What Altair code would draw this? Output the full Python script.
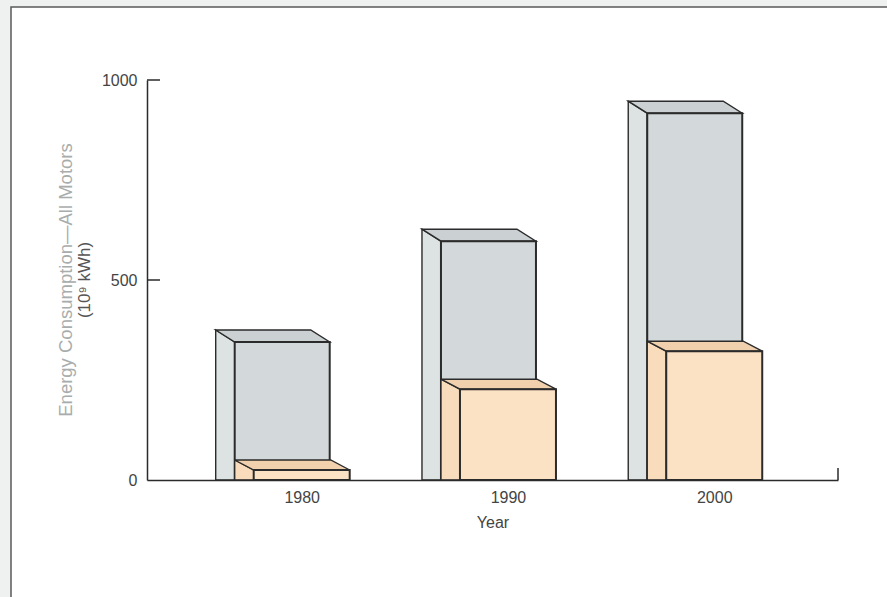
import altair as alt
import pandas as pd

# ---- data ----
years = [1980, 1990, 2000]
all_motors = [345, 597, 917]      # grey boxes (front face top)
efficient = [25, 227, 322]        # peach boxes (front face top)
y_tick_values = [0, 500, 1000]
x_tick_values = [1980, 1990, 2000]

# ---- layout constants (pixels) ----
W, H = 691, 400
X_DOMAIN = [1972.5, 2006.0]
Y_DOMAIN = [0, 1000]
PX_YEAR = W / (X_DOMAIN[1] - X_DOMAIN[0])
PX_UNIT = H / (Y_DOMAIN[1] - Y_DOMAIN[0])
STROKE = "#2b2b2b"


def box_tables(values, series, left_px, right_px, dx_px, dy_px):
    front, side, top = [], [], []
    for yr, v in zip(years, values):
        L = yr + left_px / PX_YEAR
        R = yr + right_px / PX_YEAR
        Lb = L + dx_px / PX_YEAR
        Rb = R + dx_px / PX_YEAR
        Tb = v + dy_px / PX_UNIT
        box = f"{series}-{yr}"
        front.append(dict(series=series, box=box, L=L, R=R, T=v))
        side.append(dict(series=series, box=box, xs=Lb, ys=Tb))
        side.append(dict(series=series, box=box, xs=L, ys=v))
        top.append(dict(series=series, box=box, yt=v, xl=L, xr=R))
        top.append(dict(series=series, box=box, yt=Tb, xl=Lb, xr=Rb))
    return pd.DataFrame(front), pd.DataFrame(side), pd.DataFrame(top)


g_front, g_side, g_top = box_tables(all_motors, "all", -67, 28, -19, 12)
p_front, p_side, p_top = box_tables(efficient, "eff", -48, 48, -19, 10)

xs = alt.Scale(domain=X_DOMAIN, nice=False, zero=False)
ys = alt.Scale(domain=Y_DOMAIN, nice=False)

XAX = alt.Axis(values=x_tick_values, format="d", ticks=False,
               labelPadding=9, titlePadding=9, grid=False,
               domainColor=STROKE, domainWidth=1.5,
               labelColor="#444", titleColor="#444",
               labelFontSize=16, titleFontSize=16,
               titleFontWeight="normal", zindex=1)
YAX = alt.Axis(values=y_tick_values, format="d", ticks=False, labelPadding=10,
               grid=False, domainColor=STROKE, domainWidth=1.5,
               labelColor="#444", labelFontSize=16, zindex=1)


def X(field):
    return alt.X(field, scale=xs, axis=XAX, title="Year")


def Y(field):
    return alt.Y(field, scale=ys, axis=YAX, title=None)


def box_layers(front, side, top, c_front, c_side, c_top):
    side_l = alt.Chart(side).mark_area(
        fill=c_side, stroke=STROKE, strokeWidth=1.4, orient="vertical"
    ).encode(x=X("xs:Q"), y=Y("ys:Q"), y2=alt.datum(0), detail="box:N")
    top_l = alt.Chart(top).mark_area(
        fill=c_top, stroke=STROKE, strokeWidth=1.4, orient="horizontal"
    ).encode(y=Y("yt:Q"), x=X("xl:Q"), x2="xr:Q", detail="box:N")
    front_l = alt.Chart(front).mark_rect(
        fill=c_front, stroke=STROKE, strokeWidth=2
    ).encode(x=X("L:Q"), x2="R:Q", y=Y("T:Q"), y2=alt.datum(0))
    return [side_l, top_l, front_l]


frame = alt.Chart(alt.Data(values=[{}])).mark_rect(
    fill="white", stroke="#5a5a5a", strokeWidth=1.5
).encode(
    x=alt.value(-136), x2=alt.value(760), y=alt.value(-73), y2=alt.value(540)
)

axes_df = pd.DataFrame({"yr": x_tick_values, "v": [0, 0, 0]})
axes = alt.Chart(axes_df).mark_point(opacity=0).encode(x=X("yr:Q"), y=Y("v:Q"))

ticks = alt.Chart(pd.DataFrame({"t": y_tick_values[1:]})).mark_rule(
    color=STROKE, strokeWidth=1.5
).encode(y=Y("t:Q"), x=alt.value(0), x2=alt.value(13))

end_tick = alt.Chart(alt.Data(values=[{}])).mark_rule(
    color=STROKE, strokeWidth=1.5
).encode(x=alt.value(W), y=alt.value(H - 12), y2=alt.value(H))

title1 = alt.Chart(alt.Data(values=[{}])).mark_text(
    text="Energy Consumption\u2014All Motors", angle=270, fontSize=18.5,
    color="#a9acac", align="center", baseline="middle",
).encode(x=alt.value(-81), y=alt.value(H / 2))

title2 = alt.Chart(alt.Data(values=[{}])).mark_text(
    text="(10\u2079 kWh)", angle=270, fontSize=17,
    color="#555", align="center", baseline="middle",
).encode(x=alt.value(-62), y=alt.value(H / 2))

layers = (
    [frame, axes]
    + box_layers(g_front, g_side, g_top, "#d3d9da", "#dde2e3", "#cbd1d2")
    + box_layers(p_front, p_side, p_top, "#fce2c4", "#f8dcbc", "#f1d1ad")
    + [ticks, end_tick, title1, title2]
)

chart = alt.layer(*layers).properties(
    width=W, height=H,
    autosize=alt.AutoSizeParams(type="none"),
    padding={"left": 147, "top": 80, "right": 887 - 147 - W, "bottom": 597 - 80 - H},
    background="#eef1ef",
).configure_view(stroke=None).configure(font="Liberation Sans")

chart.save("out.html", embed_options={"renderer": "svg", "actions": False})
